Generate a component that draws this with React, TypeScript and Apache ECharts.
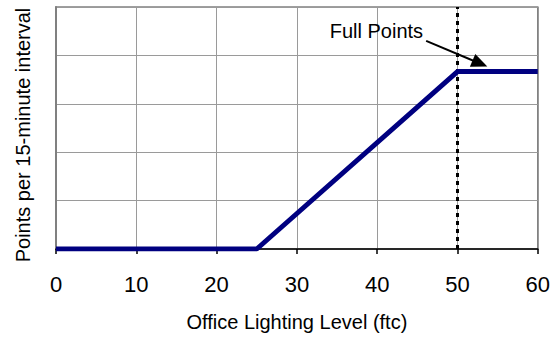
import React, { useEffect, useRef } from "react";
import * as echarts from "echarts";

const xValues = [0, 25, 50, 60];
const yValues = [0, 0, 11, 11];
const xTicks = [0, 10, 20, 30, 40, 50, 60];
const fullPointsX = 50;
const annotationText = "Full Points";
const annotationTextPos = [39.9, 13.5];
const arrowFrom = [46.1, 12.9];
const arrowTo = [52.8, 11.5];

export default function App() {
  const ref = useRef<HTMLDivElement>(null);
  useEffect(() => {
    const chart = echarts.init(ref.current!, null, { renderer: "svg" });
    const font = "'Liberation Sans', Arial, sans-serif";
    chart.setOption({
      animation: false,
      grid: {
        left: 56,
        top: 7,
        right: 13,
        bottom: 82,
        show: true,
        borderColor: "#808080",
        borderWidth: 1.5,
        backgroundColor: "transparent",
      },
      xAxis: {
        type: "value",
        min: xTicks[0],
        max: xTicks[xTicks.length - 1],
        interval: 10,
        name: "Office Lighting Level (ftc)",
        nameLocation: "middle",
        nameGap: 63,
        nameTextStyle: { fontFamily: font, fontSize: 20, color: "#000" },
        axisLine: { lineStyle: { color: "#000", width: 1.5 } },
        axisTick: { show: true, length: 5, lineStyle: { color: "#000", width: 1.5 } },
        axisLabel: { fontFamily: font, fontSize: 22, color: "#000", margin: 24 },
        splitLine: { show: true, lineStyle: { color: "#9a9a9a", width: 1 } },
      },
      yAxis: {
        type: "value",
        min: 0,
        max: 15,
        interval: 3,
        name: "Points per 15-minute interval",
        nameLocation: "middle",
        nameGap: 23,
        nameTextStyle: { fontFamily: font, fontSize: 20, color: "#000", padding: [0, 14, 0, 0] },
        axisLine: { show: true, lineStyle: { color: "#808080", width: 2 } },
        axisTick: { show: false },
        axisLabel: { show: false },
        splitLine: { show: true, lineStyle: { color: "#9a9a9a", width: 1 } },
      },
      series: [
        {
          type: "line",
          data: xValues.map((x, i) => [x, yValues[i]]),
          symbol: "none",
          lineStyle: { color: "#000080", width: 5 },
          z: 5,
          markLine: {
            silent: true,
            symbol: "none",
            label: { show: false },
            lineStyle: { color: "#000", type: [4, 4], width: 3 },
            data: [{ xAxis: fullPointsX }],
          },
        },
        {
          type: "line",
          data: [],
          markLine: {
            silent: true,
            symbol: ["none", "triangle"],
            symbolSize: [14, 16],
            label: { show: false },
            lineStyle: { color: "#000", type: "solid", width: 2 },
            data: [[{ coord: arrowFrom }, { coord: arrowTo }]],
          },
          markPoint: {
            silent: true,
            symbol: "circle",
            symbolSize: 0,
            label: {
              show: true,
              formatter: annotationText,
              fontFamily: font,
              fontSize: 20,
              color: "#000",
              position: "inside",
            },
            data: [{ coord: annotationTextPos }],
          },
        },
      ],
    });
    return () => chart.dispose();
  }, []);
  return <div ref={ref} style={{ width: 553, height: 337, position: "absolute", left: 0, top: 0 }} />;
}
